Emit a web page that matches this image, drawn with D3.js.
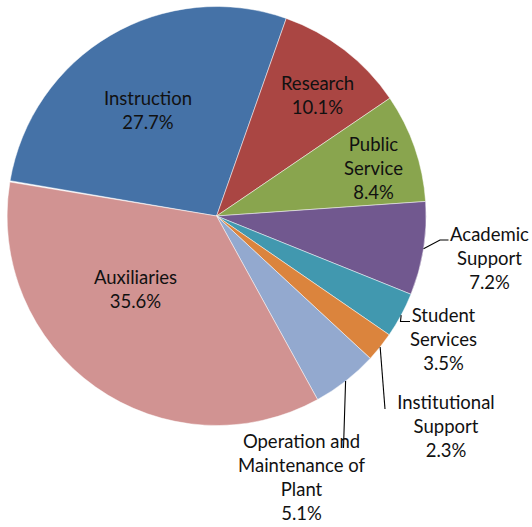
<!DOCTYPE html>
<html>
<head>
<meta charset="utf-8">
<script src="https://cdn.jsdelivr.net/npm/d3@7"></script>
<style>
  html, body { margin: 0; padding: 0; background: #fff; }
  svg { display: block; }
  text { font-family: Lato, "Open Sans", sans-serif; fill: #111; }
</style>
</head>
<body>
<svg id="chart" width="532" height="527"></svg>
<script>
// Expense categories, in slice order (clockwise)
const categories = [
  "Instruction",
  "Research",
  "Public Service",
  "Academic Support",
  "Student Services",
  "Institutional Support",
  "Operation and Maintenance of Plant",
  "Auxiliaries"
];
// Share of total expenses, percent
const shares = [27.7, 10.1, 8.4, 7.2, 3.5, 2.3, 5.1, 35.6];
// How each category name is broken over lines in its label
const labelLines = [
  ["Instruction"],
  ["Research"],
  ["Public", "Service"],
  ["Academic", "Support"],
  ["Student", "Services"],
  ["Institutional", "Support"],
  ["Operation and", "Maintenance of", "Plant"],
  ["Auxiliaries"]
];
const colors = ["#4572A7", "#AA4643", "#89A54E", "#71588F", "#4198AF", "#DB843D", "#93A9CF", "#D19392"];

// Label placement: centre x, first baseline y, and leader-line bend points (outside labels)
const labelLayout = [
  { x: 148, y: 105 },
  { x: 317.5, y: 89.5 },
  { x: 373.5, y: 150.5 },
  { x: 489.5, y: 241, leader: [[440, 240], [448.5, 240]] },
  { x: 443.5, y: 321.5, leader: [[400.5, 321.5], [410, 321.5]] },
  { x: 446, y: 408.5, leader: [[385, 409]] },
  { x: 301.5, y: 447.5, leader: [[343.5, 448]] },
  { x: 135.5, y: 283.5 }
];
const lineHeight = 24.2;

const cx = 216.6, cy = 216, radius = 209.5;
const svg = d3.select("#chart");
const g = svg.append("g").attr("transform", `translate(${cx},${cy})`);

const rad = deg => deg * Math.PI / 180;
const pie = d3.pie().sort(null).value(d => d.value)
  .startAngle(rad(-80.3)).endAngle(rad(-80.3 + 360 * d3.sum(shares) / 100));
const data = categories.map((c, i) => ({ name: c, value: shares[i], i }));
const arcs = pie(data);
const arc = d3.arc().innerRadius(0).outerRadius(radius);

g.selectAll("path.slice")
  .data(arcs)
  .join("path")
  .attr("class", "slice")
  .attr("d", arc)
  .attr("fill", d => colors[d.data.i])
  .attr("stroke", "#ffffff")
  .attr("stroke-width", 0.6)
  .attr("stroke-opacity", 0.8);

// Leader lines from the rim to outside labels
arcs.forEach(a => {
  const lay = labelLayout[a.data.i];
  if (!lay.leader) return;
  const mid = (a.startAngle + a.endAngle) / 2;
  const start = [cx + radius * Math.sin(mid), cy - radius * Math.cos(mid)];
  const pts = [start, ...lay.leader];
  svg.append("path")
    .attr("d", d3.line()(pts))
    .attr("fill", "none")
    .attr("stroke", "#000")
    .attr("stroke-width", 1.1);
});

// Labels: category name lines followed by the percentage
arcs.forEach(a => {
  const i = a.data.i;
  const lay = labelLayout[i];
  const lines = [...labelLines[i], d3.format(".1f")(shares[i]) + "%"];
  const t = svg.append("text")
    .attr("text-anchor", "middle")
    .attr("font-size", 18.5);
  lines.forEach((ln, k) => {
    t.append("tspan")
      .attr("x", lay.x)
      .attr("y", lay.y + k * lineHeight)
      .text(ln);
  });
});
</script>
</body>
</html>
